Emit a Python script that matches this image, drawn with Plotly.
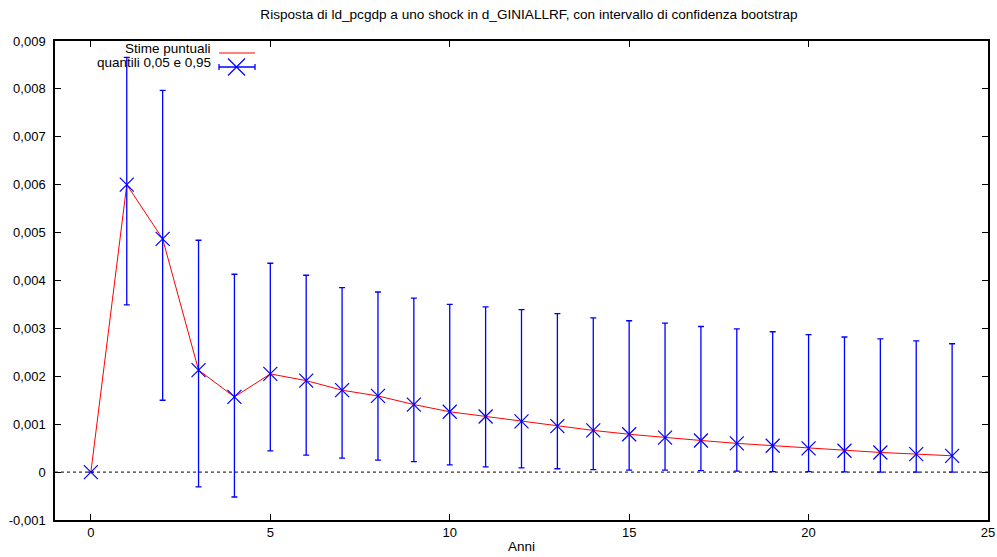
import plotly.graph_objects as go

anni = list(range(25))
stime = [0.0, 0.00600, 0.00487, 0.00213, 0.00157, 0.00205, 0.00191, 0.00171, 0.00159,
         0.00141, 0.00126, 0.00116, 0.00106, 0.00096, 0.00087, 0.00079, 0.00072,
         0.00066, 0.00060, 0.00055, 0.000495, 0.000445, 0.00041, 0.000376, 0.00034]
q95 = [0.0, 0.00866, 0.00797, 0.00484, 0.00413, 0.00436, 0.00411, 0.00385, 0.00376,
       0.00363, 0.00350, 0.00345, 0.00339, 0.00331, 0.00322, 0.00316, 0.00311,
       0.00304, 0.00299, 0.00293, 0.00287, 0.00282, 0.00278, 0.00274, 0.00268]
q05 = [0.0, 0.00349, 0.00150, -0.00031, -0.00052, 0.000445, 0.000355, 0.00029, 0.00025,
       0.00022, 0.00015, 0.00011, 0.00009, 0.00007, 0.00005, 0.00004, 0.00004,
       0.00003, 0.00002, 0.00001, 0.00001, 0.000005, 0.0, 0.0, 0.0]

yticks = [-0.001, 0, 0.001, 0.002, 0.003, 0.004, 0.005, 0.006, 0.007, 0.008, 0.009]
yticktext = ["-0,001", "0", "0,001", "0,002", "0,003", "0,004", "0,005", "0,006", "0,007", "0,008", "0,009"]
xticks = [0, 5, 10, 15, 20, 25]

title = "Risposta di ld_pcgdp a uno shock in d_GINIALLRF, con intervallo di confidenza bootstrap"
leg1 = "Stime puntuali"
leg2 = "quantili 0,05 e 0,95"

FONT = "Liberation Sans, Arial, Helvetica, sans-serif"
BLUE = "rgb(0,0,255)"

fig = go.Figure()

# zero reference line (dotted)
fig.add_shape(type="line", xref="paper", yref="y", x0=0, x1=1, y0=0, y1=0,
              line=dict(color="black", width=1, dash="dot"), layer="below")

fig.add_trace(go.Scatter(
    x=anni, y=stime, mode="lines",
    line=dict(color="red", width=1), showlegend=False, hoverinfo="skip"))

fig.add_trace(go.Scatter(
    x=anni, y=stime, mode="markers",
    marker=dict(symbol="x-thin", size=14, line=dict(color=BLUE, width=1.2), color=BLUE),
    error_y=dict(type="data", symmetric=False,
                 array=[u - s for u, s in zip(q95, stime)],
                 arrayminus=[s - l for s, l in zip(stime, q05)],
                 color=BLUE, thickness=1.3, width=3),
    showlegend=False))

# manual legend (key on the right of right-aligned text)
W, H = 933.0, 479.0
def px(x):
    return (x - 55) / W
def py(y):
    return 1 - (y - 41) / H

fig.add_annotation(xref="paper", yref="paper", x=px(213), y=py(49), text=leg1,
                   showarrow=False, xanchor="right", yanchor="middle",
                   font=dict(family=FONT, size=13.5, color="black"))
fig.add_annotation(xref="paper", yref="paper", x=px(213), y=py(63), text=leg2,
                   showarrow=False, xanchor="right", yanchor="middle",
                   font=dict(family=FONT, size=13.5, color="black"))
fig.add_shape(type="line", xref="paper", yref="paper", x0=px(219), x1=px(255),
              y0=py(53), y1=py(53), line=dict(color="red", width=1))
fig.add_shape(type="line", xref="paper", yref="paper", x0=px(219), x1=px(255),
              y0=py(67), y1=py(67), line=dict(color=BLUE, width=1.3))
for xx in (219, 255):
    fig.add_shape(type="line", xref="paper", yref="paper", x0=px(xx), x1=px(xx),
                  y0=py(64), y1=py(70), line=dict(color=BLUE, width=1.3))
fig.add_shape(type="line", xref="paper", yref="paper", x0=px(228), x1=px(245),
              y0=py(58.5), y1=py(75.5), line=dict(color=BLUE, width=1.2))
fig.add_shape(type="line", xref="paper", yref="paper", x0=px(228), x1=px(245),
              y0=py(75.5), y1=py(58.5), line=dict(color=BLUE, width=1.2))

fig.update_layout(
    width=997, height=557,
    margin=dict(l=55, r=9, t=41, b=37, autoexpand=False),
    paper_bgcolor="white", plot_bgcolor="white",
    font=dict(family=FONT, size=13, color="black"),
    title=dict(text=title, x=529 / 997, xanchor="center", y=1 - 14 / 557, yanchor="middle",
               font=dict(family=FONT, size=13.6, color="black"), automargin=False),
    showlegend=False,
)
fig.update_xaxes(range=[-1, 25], tickvals=xticks, ticks="inside", ticklen=6,
                 tickcolor="black", showline=True, linecolor="black", linewidth=1.5,
                 mirror="ticks", showgrid=False, zeroline=False, automargin=False,
                 ticklabeloverflow="allow",
                 title=dict(text="Anni", standoff=2, font=dict(family=FONT, size=13.5)),
                 tickfont=dict(family=FONT, size=13))
fig.update_yaxes(range=[-0.001, 0.009], tickvals=yticks, ticktext=yticktext,
                 ticks="inside", ticklen=6, tickcolor="black", showline=True,
                 linecolor="black", linewidth=1.5, mirror="ticks", showgrid=False,
                 zeroline=False, automargin=False, ticklabeloverflow="allow",
                 tickfont=dict(family=FONT, size=13), ticklabelstandoff=5)

fig.write_html("out.html", config={"displayModeBar": False},
               post_script="document.body.style.margin='0';document.body.style.padding='0';")
